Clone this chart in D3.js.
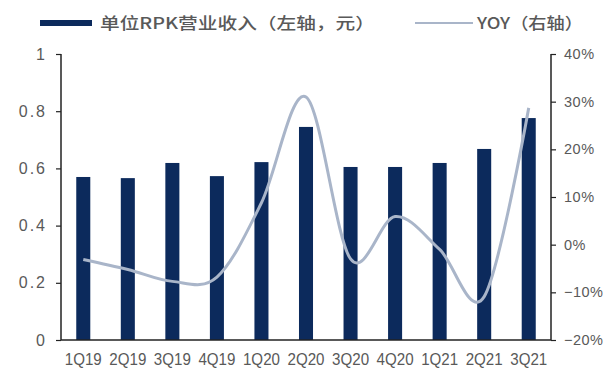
<!DOCTYPE html>
<html>
<head>
<meta charset="utf-8">
<script src="https://cdn.jsdelivr.net/npm/d3@7"></script>
<style>
  body { margin: 0; background: #fff; }
  svg { display: block; }
</style>
</head>
<body>
<div id="chart"></div>
<script>
// categorias e séries
const categorias = ["1Q19", "2Q19", "3Q19", "4Q19", "1Q20", "2Q20", "3Q20", "4Q20", "1Q21", "2Q21", "3Q21"];
const receitaRPK = [0.57, 0.566, 0.619, 0.573, 0.622, 0.745, 0.605, 0.605, 0.619, 0.668, 0.776];
const yoy = [-0.031, -0.052, -0.077, -0.068, 0.088, 0.31, -0.03, 0.059, -0.01, -0.109, 0.287];
const ticksEsq = [0, 0.2, 0.4, 0.6, 0.8, 1];
const ticksDir = [-0.2, -0.1, 0, 0.1, 0.2, 0.3, 0.4];
const legendaBarra = "单位RPK营业收入（左轴，元）";
const legendaLinha = "YOY（右轴）";

const width = 609, height = 372;
const margem = { esq: 61, dir: 551, topo: 54, base: 340 };
const corBarra = "#0c2a5c", corLinha = "#a9b5c9", corTexto = "#595959";

const svg = d3.select("#chart").append("svg")
    .attr("width", width)
    .attr("height", height);

const x = d3.scaleBand()
    .domain(categorias)
    .range([margem.esq, margem.dir])
    .paddingInner(0.685)
    .paddingOuter(0.3425);

const yEsq = d3.scaleLinear().domain([0, 1]).range([margem.base, margem.topo]);
const yDir = d3.scaleLinear().domain([-0.2, 0.4]).range([margem.base, margem.topo]);

// barras
svg.append("g")
    .selectAll("rect")
    .data(categorias)
    .join("rect")
    .attr("x", d => x(d))
    .attr("y", (d, i) => yEsq(receitaRPK[i]))
    .attr("width", x.bandwidth())
    .attr("height", (d, i) => margem.base - yEsq(receitaRPK[i]))
    .attr("fill", corBarra);

// linha suavizada do YOY
const linha = d3.line()
    .x((d, i) => x(categorias[i]) + x.bandwidth() / 2)
    .y(d => yDir(d))
    .curve(d3.curveCatmullRom.alpha(0));

svg.append("path")
    .datum(yoy)
    .attr("d", linha)
    .attr("fill", "none")
    .attr("stroke", corLinha)
    .attr("stroke-width", 3);

// eixos
const eixoEsq = svg.append("g")
    .attr("transform", `translate(${margem.esq},0)`)
    .call(d3.axisLeft(yEsq).tickValues(ticksEsq).tickSize(5).tickPadding(9)
        .tickFormat(d => d === 0 || d === 1 ? d : d3.format(".1f")(d)));

const eixoDir = svg.append("g")
    .attr("transform", `translate(${margem.dir},0)`)
    .call(d3.axisRight(yDir).tickValues(ticksDir).tickSize(5).tickPadding(8)
        .tickFormat(d3.format(".0%")));

const eixoX = svg.append("g")
    .attr("transform", `translate(0,${margem.base})`)
    .call(d3.axisBottom(x).tickSize(0).tickPadding(10));

[eixoEsq, eixoDir, eixoX].forEach(g => {
    g.selectAll(".domain").attr("stroke", "#222").attr("stroke-width", 1.5);
    g.selectAll(".tick line").attr("stroke", "#222").attr("stroke-width", 1.2);
    g.selectAll("text")
        .attr("fill", corTexto)
        .style("font-family", "'Liberation Sans', Arial, sans-serif");
});
eixoEsq.select(".domain").attr("d", `M0,${margem.base}V${margem.topo}`);
eixoDir.select(".domain").attr("d", `M0,${margem.base}V${margem.topo}`);
eixoX.select(".domain").attr("d", `M${margem.esq},0H${margem.dir}`);

eixoEsq.selectAll("text").style("font-size", "16px").style("letter-spacing", "2px");
eixoDir.selectAll("text").style("font-size", "14.5px").style("letter-spacing", "0.5px")
    .text(d => d3.format(".0%")(d).replace("-", "−"));
// rótulos do eixo x: fonte alta e estreita como no original
eixoX.selectAll("text")
    .style("font-size", "17px")
    .attr("dy", "0.9em")
    .attr("textLength", 37)
    .attr("lengthAdjust", "spacingAndGlyphs");

// legenda
const leg = svg.append("g")
    .style("font-family", "'Noto Sans CJK SC', sans-serif")
    .style("font-size", "16px")
    .style("font-weight", "500")
    .attr("fill", corTexto);

leg.append("rect")
    .attr("x", 40).attr("y", 20)
    .attr("width", 52).attr("height", 6)
    .attr("fill", corBarra);
leg.append("text")
    .attr("x", 100).attr("y", 29)
    .attr("textLength", 275)
    .attr("lengthAdjust", "spacingAndGlyphs")
    .text(legendaBarra);

leg.append("line")
    .attr("x1", 415).attr("x2", 473)
    .attr("y1", 23).attr("y2", 23)
    .attr("stroke", corLinha)
    .attr("stroke-width", 2);
leg.append("text")
    .attr("x", 477).attr("y", 29)
    .attr("textLength", 106)
    .attr("lengthAdjust", "spacingAndGlyphs")
    .text(legendaLinha);
</script>
</body>
</html>
